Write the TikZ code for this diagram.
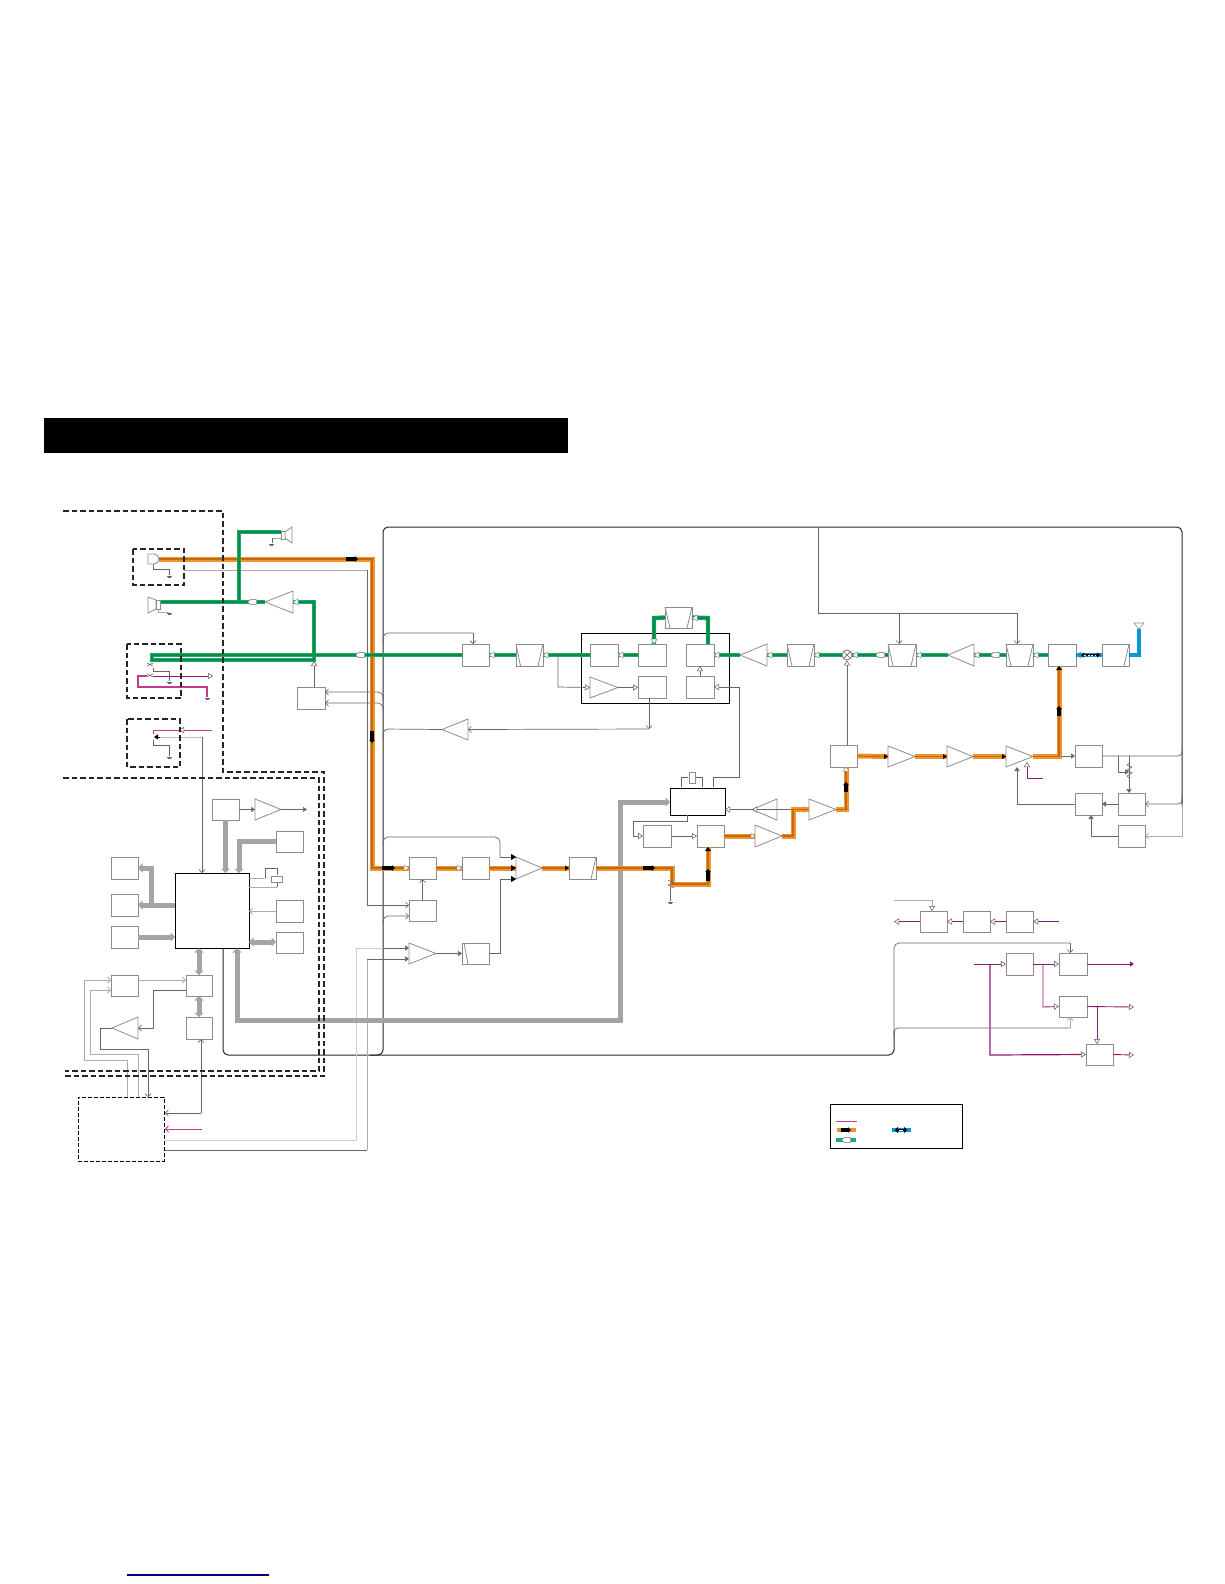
\documentclass[tikz,border=0pt]{standalone}
\usetikzlibrary{arrows.meta,calc}
\definecolor{orngA}{HTML}{F0932B}
\definecolor{orngB}{HTML}{C26A12}
\definecolor{grnA}{HTML}{17AB66}
\definecolor{grnB}{HTML}{0B8A4C}
\definecolor{blueA}{HTML}{0A96D6}
\definecolor{pinkA}{HTML}{8E1A6E}
\definecolor{pinkB}{HTML}{C8388F}
\definecolor{thickA}{HTML}{A4A4A4}
\definecolor{wireA}{HTML}{666666}
\definecolor{wireL}{HTML}{ABABAB}
\definecolor{boxL}{HTML}{8C8C8C}
\tikzset{
  boxst/.style={draw=boxL,fill=white,line width=.8pt,inner sep=0pt,outer sep=0pt},
  cpubox/.style={draw=black,fill=white,line width=.9pt,inner sep=0pt,outer sep=0pt},
  ghost/.style={inner sep=0pt,outer sep=0pt},
  wire/.style={draw=wireA,line width=.7pt},
  wirel/.style={draw=wireL,line width=.8pt},
  bkw/.style={draw=black!85,line width=1pt},
  oa/.style={-{Triangle[fill=white,color=black!65,line width=.5pt,length=5pt,width=6pt]}},
  fa/.style={-{Triangle[length=4pt,width=5pt]}},
  va/.style={-{Straight Barb[length=3pt,width=6pt]}},
  orng/.style={draw=orngA,double=orngB,double distance=1.2pt,line width=1.9pt},
  grn/.style={draw=grnA,double=grnB,double distance=2.6pt,line width=.9pt},
  blu/.style={draw=blueA,line width=4pt},
  pnk/.style={draw=pinkA,line width=.9pt},
  thk/.style={draw=thickA,line width=5pt},
  thkt/.style={-{Triangle[length=4.5pt,width=9pt]}},
  thkd/.style={{Triangle[length=4.5pt,width=9pt]}-{Triangle[length=4.5pt,width=9pt]}},
  bigd/.style={draw=black!85,line width=1.8pt,dash pattern=on 5.5pt off 3pt},
  thind/.style={draw=black,line width=.8pt,dash pattern=on 4pt off 2pt},
}
\newcommand\bx[5]{\node[boxst,anchor=north west,minimum width={(#4-#2)*1pt},minimum height={(#5-#3)*1pt}] (#1) at (#2,#3) {};}
\newcommand\amp[5]{%
  \pgfmathsetmacro\ampm{(#4+#5)/2}\pgfmathsetmacro\ampc{(#2+#3)/2}\pgfmathsetmacro\ampw{abs(#2-#3)}%
  \draw[boxst] (#2,#4) -- (#3,\ampm) -- (#2,#5) -- cycle;
  \node[ghost,minimum width=\ampw pt,minimum height={(#5-#4)*1pt}] (#1) at (\ampc,\ampm) {};}
\newcommand\fil[7]{\bx{#1}{#2}{#3}{#4}{#5}\draw[boxst,fill=none] (#2,#3) -- (#6,#5) (#4,#3) -- (#7,#5);}
\newcommand\gnd[2]{\draw[wire,line width=.5pt] (#1-2,#2) -- (#1+2.5,#2) (#1-1.5,#2+1) -- (#1+1.5,#2+1);}
\newcommand\blkarr[4]{\draw[black,line width=3.4pt,-{Triangle[length=3pt,width=5.5pt]}] (#1,#2) -- (#3,#4);}
\newcommand\whl[2]{\draw[draw=black!60,fill=white,line width=.4pt,rounded corners=.6pt] (#1-4.5,#2) -- (#1-1.5,#2-2.6) -- (#1+4.5,#2-2.6) -- (#1+4.5,#2+2.6) -- (#1-1.5,#2+2.6) -- cycle;}
\begin{document}
\begin{tikzpicture}[x=1pt,y=-1pt]
\useasboundingbox (0,0) rectangle (1224,1584);
\fill[black] (44,418) rectangle (568,453);
% ----- boxes
\node[cpubox,anchor=north west,minimum width=74pt,minimum height=75pt] (cpu) at (175,873) {};
\bx{a1}{212}{799}{239}{820}
\amp{ampA}{255}{281}{799}{820}
\bx{b1}{276}{831}{303}{852}
\bx{c1}{276}{900}{303}{922}
\bx{d1}{276}{932}{303}{953}
\bx{e1}{111}{857}{138}{879}
\bx{f1}{111}{894}{138}{916}
\bx{g1}{111}{926}{138}{948}
\bx{h1}{186}{975}{212}{996}
\bx{i1}{186}{1017}{212}{1039}
\bx{j1}{111}{975}{138}{996}
\amp{ampK}{138}{112}{1017}{1039}
\bx{sw}{297}{687}{325}{709}
\amp{ampSp}{293}{265}{591}{613}
\bx{m1}{462}{644}{489}{666}
\fil{n1}{516}{644}{543}{666}{520.5}{538}
\node[draw=black,line width=.9pt,inner sep=0pt,minimum width=148pt,minimum height=70pt,anchor=north west] (rect) at (581,633) {};
\bx{p1}{590}{644}{618}{666}
\bx{q1}{638}{644}{666}{666}
\bx{r1}{686}{644}{714}{666}
\amp{ampS}{590}{618}{677}{698}
\bx{t1}{638}{676}{666}{698}
\bx{u1}{686}{676}{714}{698}
\fil{w1}{665}{607}{692}{628}{670}{687}
\amp{ampV}{468}{442}{719}{740}
\amp{ampR}{767}{740}{644}{666}
\fil{al}{787}{644}{814}{666}{792}{809}
\fil{am}{888}{644}{916}{666}{893}{911}
\amp{ampN}{974}{948}{644}{666}
\fil{ao}{1006}{644}{1033}{666}{1011}{1028}
\bx{ag}{1048}{644}{1076}{666}
\bx{ap}{1102}{644}{1129}{666}
\draw[boxst,fill=none] (1129,644) -- (1124,666);
\node[draw=wireA,fill=white,circle,line width=.7pt,inner sep=0pt,minimum size=10pt] (mix) at (847,655) {};
\draw[wire] (mix.north west) -- (mix.south east) (mix.north east) -- (mix.south west);
\node[cpubox,anchor=north west,minimum width=55pt,minimum height=27pt] (vco) at (670,788) {};
\amp{ampX}{777}{752}{799}{820}
\amp{ampY}{809}{836}{799}{820}
\amp{ampZ}{755}{782}{825}{847}
\bx{aa}{697}{825}{724}{847}
\bx{ab}{643}{825}{671}{847}
\bx{ac}{830}{745}{857}{767}
\amp{ampD}{888}{915}{746}{767}
\amp{ampE}{947}{973}{746}{767}
\amp{ampF}{1006}{1033}{746}{767}
\bx{ah}{1075}{745}{1102}{767}
\bx{ai}{1075}{793}{1102}{815}
\bx{aj}{1118}{793}{1145}{815}
\bx{ak}{1118}{825}{1145}{847}
\bx{aq}{409}{857}{436}{879}
\bx{ar}{462}{857}{489}{879}
\amp{ampS2}{516}{542}{857}{879}
\bx{at}{569}{857}{596}{879}
\draw[boxst,fill=none] (596,857) -- (591,879);
\bx{au}{409}{900}{436}{921}
\amp{ampAV}{409}{436}{943}{964}
\bx{aw}{462}{943}{489}{964}
\draw[boxst,fill=none] (464,943) -- (468,964);
\bx{ba}{920}{911}{947}{932}
\bx{bb}{963}{911}{990}{932}
\bx{bc}{1006}{911}{1033}{932}
\bx{bd}{1006}{953}{1033}{975}
\bx{be}{1059}{953}{1087}{975}
\bx{bf}{1059}{996}{1087}{1017}
\bx{bg}{1086}{1044}{1113}{1065}
\node[thind,anchor=north west,minimum width=86pt,minimum height=64pt,inner sep=0pt] (ld) at (78,1097) {};
\coordinate (dotA) at (1043,964);
\coordinate (dotB) at (990,964);
\coordinate (dotC) at (1097,1007);
% ----- black rounded bus
\draw[bkw,rounded corners=5pt] (223,0 |- cpu.south) -- (223,1055) -- (894,1055) -- (894,1030);
\draw[wire,rounded corners=5pt] (894,1030) -- (894,943) -- (1070,943);
\draw[wire,va,rounded corners=0pt] (1070,943) -- (1070,0 |- be.north);
\draw[bkw,rounded corners=5pt] (370,1055) -- (383,1055) -- (383,527) -- (1182,527) -- (1182,806);
\draw[wire] (818,527) -- (818,613) -- (1017,613);
\draw[wire,va] (1017,613) -- (1017,0 |- ao.north);
\draw[wire,va] (899,613) -- (899,0 |- am.north);
\draw[wire,rounded corners=4pt] (ah.east) -- (1182,756) -- (1182,750);
\draw[wire,va,rounded corners=4pt] (1182,796) -- (1182,804) -- (aj.east);
\draw[wirel,va] (1182,804) -- (1182,836) -- (ak.east);
% branches from x=383
\draw[wire,rounded corners=5pt] (383,642) -- (383,633) -- (473,633);
\draw[wire,va] (473,633) -- (473,0 |- m1.north);
\draw[wire,va,rounded corners=5pt] (383,700) -- (383,692) -- (sw.east |- 0,692);
\draw[wire,va,rounded corners=5pt] (383,711) -- (383,703) -- (sw.east |- 0,703);
\draw[wire,rounded corners=5pt] (383,738) -- (383,729) -- (ampV.west);
\draw[wire,va] (649,729) -- (ampV.east);
\draw[wire,va] (649,0 |- t1.south) -- (649,729);
\draw[wire,rounded corners=5pt] (383,845) -- (383,837) -- (500,837) -- (500,857);
\draw[wire,fa] (500,857) -- (ampS2.north west);
\draw[wire,fa] (aw.east) -- (500,0 |- aw.east) -- (500,879) -- (ampS2.south west);
\draw[wire,va,rounded corners=5pt] (383,924) -- (383,916) -- (au.west |- 0,916);
\draw[wire,fa] (ampAV.east) -- (aw.west);
% mic wire
\draw[wirel] (184,570) -- (367,570);
\draw[wire] (367,570) -- (367,905);
\draw[wire,va] (367,905) -- (au.west |- 0,905);
\draw[wire,va] (au.north) -- (aq.south);
% L box wires
\draw[wire,va] (ampK.west) -- (100,1028) -- (100,1049) -- (148,1049) -- (148,0 |- ld.north);
\draw[wirel,va] (127,0 |- ld.north) -- (127,1060) -- (84,1060) -- (84,980) -- (j1.west |- 0,980);
\draw[wirel,va] (138,0 |- ld.north) -- (138,1054) -- (90,1054) -- (90,990) -- (j1.west |- 0,990);
\draw[wirel,va] (j1.east |- 0,980) -- (h1.west |- 0,980);
\draw[wire,va] (h1.west |- 0,990) -- (153,990) -- (153,1028) -- (ampK.east);
\draw[wire,va] (201,1113) -- (201,0 |- i1.south);
\draw[wire,va] (201,1113) -- (ld.east |- 0,1113);
\draw[wire,va,draw=pinkB,line width=1pt] (202,1129) -- (ld.east |- 0,1129);
\draw[wirel,draw=black!20] (ld.east |- 0,1140) -- (356,1140) -- (356,948) -- (383,948);
\draw[wire,fa] (383,948) -- (ampAV.west |- 0,948);
\draw[wire] (ld.east |- 0,1150) -- (367,1150);
\draw[wirel] (367,1150) -- (367,959);
\draw[wire,fa] (367,959) -- (ampAV.west |- 0,959);
% jack wires
\draw[wirel,draw=black!25] (158,737) -- (202,737);
\draw[wire,va] (202,737) -- (202,0 |- cpu.north);
\draw[wire] (153,668) -- (153,671) -- (169,671) -- (169,681);
\gnd{169}{682}
\draw[wire] (153,740) -- (153,745) -- (169,745) -- (169,756);
\gnd{169}{757}
\draw[wire] (153,564) -- (153,569) -- (169,569) -- (169,575);
\gnd{169}{576}
\draw[wirel] (283,539) -- (283,538) -- (272,538);
\draw[wire] (272,538) -- (272,543);
\gnd{271}{544}
\draw[wirel] (158,609) -- (158,612) -- (169,612);
\gnd{169}{613}
\draw[wire,oa] (314,0 |- sw.north) -- (314,661);
\draw[wire,line width=.6pt] (147,666) -- (153,663) (147,663) -- (153,666) (147,677) -- (153,674) (147,674) -- (153,677);
% CPU surrounding
\draw[wire,fa] (a1.east) -- (ampA.west);
\draw[wire,fa] (ampA.east) -- (307,809.5);
\draw[wirel,va] (c1.west) -- (cpu.east |- c1.west);
\draw[wirel] (cpu.east |- 0,878) -- (265,878);
\draw[wire] (265,878) -- (265,868) -- (277,868) -- (277,875);
\draw[wirel] (cpu.east |- 0,887) -- (277,887);
\draw[wire] (277,887) -- (277,883);
\node[draw=boxL,fill=white,line width=.7pt,inner sep=0pt,minimum width=11pt,minimum height=6pt] (xtalA) at (276.5,879) {};
% thick
\draw[thk,thkt] (a1.south) -- (225.5,0 |- cpu.north);
\draw[thk,thkt] (b1.west) -- (239,0 |- b1.west) -- (239,0 |- cpu.north);
\draw[thk,thkt] (cpu.west |- 0,905) -- (f1.east |- 0,905);
\draw[thk,thkt] (151,905) -- (151,868) -- (e1.east |- 0,868);
\draw[thk,thkt] (g1.east |- 0,937) -- (cpu.west |- 0,937);
\draw[thk,thkd] (cpu.east |- 0,942) -- (d1.west |- 0,942);
\draw[thk,thkd] (199,0 |- cpu.south) -- (199,0 |- h1.north);
\draw[thk,thkd] (199,0 |- h1.south) -- (199,0 |- i1.north);
\draw[thk,thkd,draw=thickA] (237,0 |- cpu.south) -- (237,1020) -- (620,1020) -- (620,802) -- (vco.west |- 0,802);
% RF thin wires
\draw[wire,oa] (ampS.east) -- (t1.west |- ampS.east);
\draw[wire,oa] (558,655) -- (558,687) -- (ampS.west);
\fill[black] (558,655) circle (1pt);
\draw[wire,oa] (u1.north) -- (r1.south);
\draw[wire,oa] (713,787) -- (713,777) -- (739,777) -- (739,687) -- (u1.east);
\draw[wire] (681,787) -- (681,777) -- (688,777) (702,787) -- (702,777) -- (696,777);
\node[draw=boxL,fill=white,line width=.7pt,inner sep=0pt,minimum width=6pt,minimum height=11pt] (xtalB) at (692,778) {};
\draw[wire,oa] (ampX.east) -- (vco.east |- ampX.east);
\draw[wire,oa] (793,809.5) -- (ampX.west);
\draw[wire,oa] (793,809.5) -- (ampY.west);
\draw[wire,oa] (ab.east) -- (aa.west);
\draw[wire] (687,0 |- vco.south) -- (687,821) -- (633,821) -- (633,836);
\draw[wire,oa] (633,836) -- (ab.west);
\draw[wire,oa] (847,0 |- ac.north) -- (mix.south);
\draw[wire,fa] (1059,756) -- (ah.west);
\draw[wire] (1118,756) -- (1118,772);
\draw[wire,fa] (1118,772) -- (1129,772);
\draw[wire,fa] (1129,756) -- (1129,0 |- aj.north);
\draw[wire,line width=.6pt] (1129,763) -- (1127,765) -- (1132,767) -- (1127,770) -- (1132,773) -- (1127,776) -- (1129,778);
\draw[wire,fa] (aj.west) -- (ai.east);
\draw[wire,fa] (ak.west) -- (1091,0 |- ak.west) -- (1091,0 |- ai.south);
\draw[wire,fa] (ai.west) -- (1017,0 |- ai.west) -- (1017,767);
\draw[pnk,oa] (1027,778) -- (1027,762);
\draw[pnk] (1027,778) -- (1043,778);
\draw[wire] (670,884) -- (670,901);
\gnd{670}{902}
% purple lower right
\draw[pnk,oa] (1059,921.5) -- (bc.east);
\draw[pnk,oa] (bc.west) -- (bb.east);
\draw[pnk,oa] (bb.west) -- (ba.east);
\draw[pnk,oa] (ba.west) -- (894,921.5);
\draw[wirel,oa] (894,900) -- (932,900) -- (932,0 |- ba.north);
\draw[pnk,oa] (974,964) -- (bd.west);
\draw[pnk,oa] (bd.east) -- (be.west);
\draw[pnk,fa] (be.east) -- (1134,964);
\draw[pnk,oa] (dotA) -- (1043,1007) -- (bf.west);
\draw[pnk,oa] (bf.east) -- (1134,1007);
\draw[pnk,oa] (dotC) -- (1097,0 |- bg.north);
\draw[pnk,oa] (bg.east) -- (1134,1055);
\draw[pnk,oa,line width=1.2pt] (dotB) -- (990,1055) -- (bg.west);
\draw[wire,rounded corners=4pt] (894,1036) -- (894,1028) -- (1070,1028);
\draw[wirel,va] (1070,1028) -- (1070,0 |- bf.south);
% jack purple
\draw[pnk,oa] (153,676) -- (213,676);
\draw[pnk,draw=pinkB,line width=1.1pt] (153,687) -- (138,687) -- (138,676) -- (147,676) (138,687) -- (207,687) -- (207,697);
\gnd{207}{698}
\draw[pnk,draw=pinkB] (212,730) -- (153,730) -- (153,734);
\draw[wire,oa] (183,730) -- (179,730);
\draw[black,line width=1pt,fa] (160,737) -- (154,737);
% ----- orange
\draw[orng] (159,559) -- (372,559) -- (372,868) -- (aq.west);
\draw[orng] (aq.east) -- (ar.west);
\draw[orng] (ar.east) -- (ampS2.west);
\draw[orng] (ampS2.east) -- (at.west);
\draw[orng] (at.east) -- (672,0 |- at.east) -- (672,884) -- (708,884) -- (708,0 |- aa.south);
\draw[orng] (aa.east) -- (ampZ.west);
\draw[orng] (ampZ.east) -- (793,836) -- (793,809.5) -- (ampY.west);
\draw[orng] (ampY.east) -- (846,809.5) -- (846,0 |- ac.south);
\draw[orng] (ac.east) -- (ampD.west);
\draw[orng] (ampD.east) -- (ampE.west);
\draw[orng] (ampE.east) -- (ampF.west);
\draw[orng] (ampF.east) -- (1059,756.5) -- (1059,0 |- ag.south);
% tips on orange
\fill[black] (ampS2.west) -- ++(-5,-3) -- ++(0,6) -- cycle;
\fill[black] (ampS2.north west) -- ++(-5,-3) -- ++(0,6) -- cycle;
\fill[black] (ampS2.south west) -- ++(-5,-3) -- ++(0,6) -- cycle;
\fill[black] (at.west) -- ++(-4,-2.5) -- ++(0,5) -- cycle;
\fill[black] (708,847) -- ++(-3,4) -- ++(6,0) -- cycle;
\fill[black] (ampD.west) -- ++(-4,-2.5) -- ++(0,5) -- cycle;
\fill[black] (ampE.west) -- ++(-4,-2.5) -- ++(0,5) -- cycle;
\fill[black] (ampF.west) -- ++(-4,-2.5) -- ++(0,5) -- cycle;
\fill[black] (1059,666) -- ++(-3,4) -- ++(6,0) -- cycle;
\draw[draw=boxL,fill=white,line width=.5pt] (846,767) -- ++(-3,4) -- ++(6,0) -- cycle;
\draw[draw=boxL,fill=white,line width=.5pt] (aq.west) -- ++(-5,-3) -- ++(0,6) -- cycle;
\draw[draw=boxL,fill=white,line width=.5pt] (ar.west) -- ++(-5,-3) -- ++(0,6) -- cycle;
\draw[draw=boxL,fill=white,line width=.5pt] (ampZ.west) -- ++(-4,-2.5) -- ++(0,5) -- cycle;
\draw[wire,line width=.6pt] (668,880) -- (674,883) -- (668,885) -- (674,888);
\blkarr{346}{559}{358}{559}
\blkarr{372}{731}{372}{743}
\blkarr{382}{868}{395}{868}
\blkarr{643}{868}{655}{868}
\blkarr{708}{881}{708}{869}
\blkarr{846}{792}{846}{782}
\blkarr{1059}{716}{1059}{706}
% ----- green
\draw[grn] (m1.west) -- (152,655) -- (152,660) -- (314,660) -- (314,602) -- (ampSp.east);
\draw[grn] (ampSp.west) -- (160,602);
\draw[grn] (239,602) -- (239,532) -- (281,532);
\draw[grn] (m1.east) -- (n1.west);
\draw[grn] (n1.east) -- (p1.west);
\draw[grn] (p1.east) -- (q1.west);
\draw[grn] (708,0 |- r1.north) -- (708,618) -- (w1.east);
\draw[grn] (w1.west) -- (654,618) -- (654,0 |- q1.north);
\draw[grn] (r1.east) -- (ampR.west);
\draw[grn] (ampR.east) -- (al.west);
\draw[grn] (al.east) -- (mix.west);
\draw[grn] (mix.east) -- (am.west);
\draw[grn] (am.east) -- (ampN.west);
\draw[grn] (ampN.east) -- (ao.west);
\draw[grn] (ao.east) -- (ag.west);
\foreach \tp in {(m1.east),(n1.east),(p1.east),(r1.east),(ampR.east),(al.east),(mix.east),(am.east),(ampN.east),(ao.east),(ag.east),(ampSp.east)}{
  \draw[draw=boxL,fill=white,line width=.5pt] \tp -- ++(5,-3) -- ++(0,6) -- cycle;}
\draw[draw=boxL,fill=white,line width=.5pt] (654,644) -- ++(-3,-5) -- ++(6,0) -- cycle;
\draw[draw=boxL,fill=white,line width=.5pt] (692,618) -- ++(5,-3) -- ++(0,6) -- cycle;
\whl{252}{602}
\whl{360}{655}
\whl{880}{655}
\whl{995}{655}
% blue
\draw[blu] (ag.east) -- (ap.west);
\draw[blu] (ap.east) -- (1139,0 |- ap.east) -- (1139,629);
\draw[black,line width=1.6pt,{Triangle[length=3pt,width=5pt]}-{Triangle[length=3pt,width=5pt]}] (1081,655) -- (1100,655);
\draw[white,line width=.8pt,dash pattern=on 2pt off 1.5pt] (1084,655) -- (1096,655);
\draw[boxst,fill=none,line width=.6pt] (1134,623) -- (1144,623) -- (1139,629) -- cycle;
% transducers
\draw[boxst] (148,554) -- (154,554) arc (-90:90:5) -- (148,564) -- cycle;
\draw[boxst] (281,531) rectangle (285,539);
\draw[boxst] (285,532) -- (292,527) -- (292,543) -- (285,538) -- cycle;
\draw[boxst] (156,600) -- (148,597) -- (148,613) -- (156,609) -- cycle;
\draw[boxst] (156,600) rectangle (160,609);
% legend
\node[draw=black,line width=1pt,inner sep=0pt,anchor=north west,minimum width=132pt,minimum height=44pt] (leg) at (830,1104) {};
\draw[draw=pinkB,line width=1pt] (836,1121) -- (857,1121);
\draw[draw=orngA,line width=4pt] (837,1130) -- (856,1130);
\blkarr{841}{1130}{851}{1130}
\draw[draw=grnA,line width=4pt] (836,1140) -- (856,1140);
\whl{846}{1140}
\draw[draw=blueA,line width=4pt] (892,1130) -- (911,1130);
\draw[black,line width=2.4pt,{Triangle[length=3pt,width=6pt]}-{Triangle[length=3pt,width=6pt]}] (895,1130) -- (907,1130);
\draw[white,line width=.9pt] (899,1130) -- (903,1130);
% dashed frames
\draw[bigd] (63,511) -- (223,511) -- (223,772) -- (324,772) -- (324,1076) -- (63,1076);
\draw[bigd] (63,778) -- (319,778) -- (319,1071) -- (65,1071);
\draw[bigd,line width=1.2pt] (133,549) rectangle (184,585);
\draw[bigd] (127,644) rectangle (181,698);
\draw[bigd] (127,719) rectangle (180,767);
% bottom rule
\draw[draw=blue!50!black,line width=1.3pt] (127,1575) -- (269,1575);
\end{tikzpicture}
\end{document}
